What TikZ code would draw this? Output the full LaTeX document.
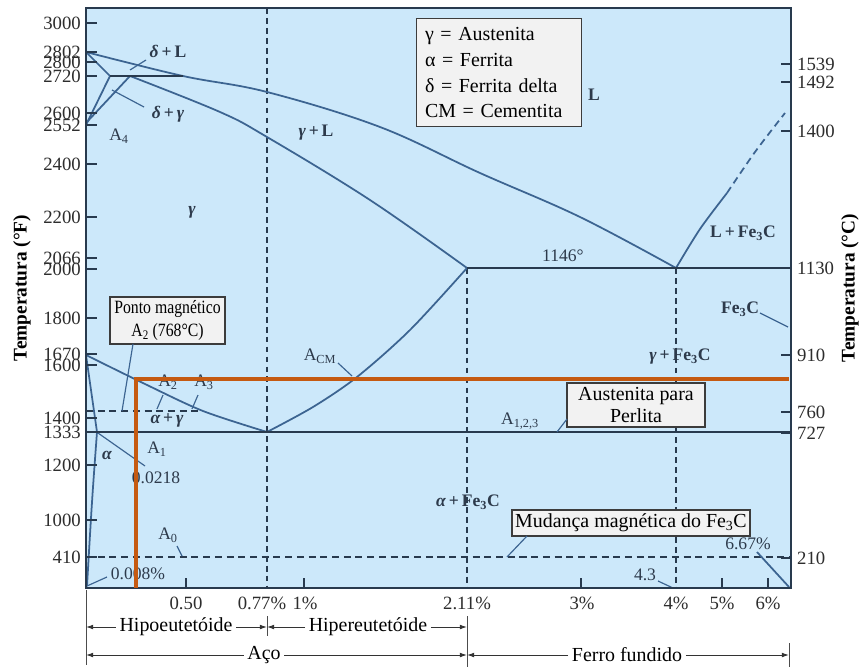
\documentclass[tikz,border=0pt]{standalone}
\usepackage{fontspec}
\setmainfont{Liberation Serif}
\usetikzlibrary{arrows.meta}
\definecolor{bgblue}{RGB}{204,232,250}
\definecolor{phase}{RGB}{60,100,145}
\definecolor{darkln}{RGB}{40,58,78}
\definecolor{lbl}{RGB}{45,58,75}
\definecolor{axtxt}{RGB}{45,45,45}
\definecolor{boxfill}{RGB}{242,242,242}
\definecolor{boxdraw}{RGB}{60,60,60}
\definecolor{orng}{RGB}{197,90,17}
\tikzset{
  phaseline/.style={draw=phase, line width=1.5pt},
  darkline/.style={draw=darkln, line width=2pt},
  dashline/.style={draw=darkln, line width=1.6pt, dash pattern=on 5pt off 3.5pt},
  leader/.style={draw=phase, line width=1pt},
  tickmark/.style={draw=darkln, line width=1.2pt},
  numlbl/.style={text=axtxt, font=\fontsize{16}{18}\selectfont, inner sep=0pt},
  phaselbl/.style={text=lbl, font=\fontsize{15}{17}\selectfont\bfseries, inner sep=1pt},
  albl/.style={text=lbl, font=\fontsize{15}{17}\selectfont, inner sep=1pt},
  infobox/.style={draw=boxdraw, fill=boxfill, line width=1.2pt, text=black, align=center, inner sep=0pt},
  bottxt/.style={text=black, font=\fontsize{17}{19}\selectfont, inner sep=3pt},
  dimarrow/.style={draw=black!80, line width=0.8pt, -{Latex[length=6pt,width=4pt]}},
  dimbar/.style={draw=black!70, line width=0.8pt},
  axtitle/.style={rotate=90, text=black, font=\fontsize{16.5}{18}\selectfont\bfseries},
}
\begin{document}
\begin{tikzpicture}[x=0.03cm,y=-0.03cm]
\useasboundingbox (0,0) rectangle (860,668);
\fill[white] (0,0) rectangle (860,668);
\fill[bgblue] (86,8) rectangle (791,588);

% key points
\coordinate (melt) at (86,52);
\coordinate (pd) at (110,76);
\coordinate (pg) at (130,76);
\coordinate (pl) at (183,76);
\coordinate (afour) at (86,125);
\coordinate (athree) at (86,355);
\coordinate (eut) at (267,432);
\coordinate (egam) at (467,268);
\coordinate (ecx) at (676,268);

% dashed verticals and horizontals
\draw[dashline] (267,8) -- (267,588);
\draw[dashline] (egam) -- (467,588);
\draw[dashline] (ecx) -- (676,588);
\draw[dashline, dash pattern=on 6pt off 4pt] (86,557) -- (791,557);
\draw[dashline, dash pattern=on 6pt off 4pt] (86,411) -- (203,411);

% phase boundaries
\draw[phaseline] plot[smooth, tension=0.6] coordinates {(melt) (pl) (267,92) (380,127) (480,173) (580,217) (ecx)};
\draw[phaseline] plot[smooth, tension=0.6] coordinates {(pg) (220,112) (267,137) (370,200) (egam)};
\draw[phaseline] (melt) -- (pd);
\draw[phaseline] (afour) -- (pd);
\draw[phaseline] (86,123) -- (pg);
\draw[darkline] (pd) -- (pl);
\draw[phaseline] plot[smooth] coordinates {(athree) (145,384) (203,411) (eut)};
\draw[phaseline] plot[smooth] coordinates {(eut) (313,407) (357,377) (410,330) (egam)};
\draw[phaseline] (athree) -- (97,432) .. controls (92,500) .. (87,586);
\draw[phaseline] plot[smooth] coordinates {(ecx) (700,229) (727,193)};
\draw[phaseline, dash pattern=on 6pt off 4pt] plot[smooth] coordinates {(727,193) (755,152) (785,113)};
\draw[darkline] (86,432) -- (791,432);
\draw[darkline] (egam) -- (791,268);

% left axis
\foreach \v/\y in {3000/23, 2802/52, 2800/62, 2720/76, 2600/113, 2552/125, 2400/164, 2200/217, 2066/258, 2000/269, 1800/318, 1670/354, 1600/365, 1400/418, 1333/432, 1200/465, 1000/520, 410/557}{
  \node[numlbl, anchor=east] (fl\v) at (81,\y) {\v};
  \draw[tickmark] (86,\y) -- (97,\y);
}
% right axis
\foreach \v/\y in {1539/64, 1492/82, 1400/131, 1130/268, 910/355, 760/412, 727/433, 210/558}{
  \node[numlbl, anchor=west] (cl\v) at (797,\y) {\v};
  \draw[tickmark] (781,\y) -- (791,\y);
}
% bottom ticks and labels
\foreach \x in {186, 304, 581, 722, 768}{
  \draw[tickmark] (\x,588) -- (\x,578);
}
\node[numlbl] (b1) at (186,603) {0.50};
\node[numlbl] (b2) at (262,603) {0.77\%};
\node[numlbl] (b3) at (305,603) {1\%};
\node[numlbl] (b4) at (467,603) {2.11\%};
\node[numlbl] (b5) at (582,603) {3\%};
\node[numlbl] (b6) at (676,603) {4\%};
\node[numlbl] (b7) at (722,603) {5\%};
\node[numlbl] (b8) at (768,603) {6\%};

% axis titles
\node[axtitle] (tF) at (22,288) {Temperatura (°F)};
\node[axtitle] (tC) at (850,288) {Temperatura (°C)};

% phase labels
\node[phaselbl] (dL) at (168,51) {{\itshape δ}\,+\,L};
\node[phaselbl] (dg) at (168,114) {{\itshape δ}\,+\,{\itshape γ}};
\node[albl] (lA4) at (119,136) {A\textsubscript{4}};
\node[phaselbl] (gam) at (192,212) {\itshape γ};
\node[phaselbl] (gL) at (316,133) {{\itshape γ}\,+\,L};
\node[phaselbl] (liq) at (594,95) {L};
\node[phaselbl] (LFe) at (743,233) {L\,+\,Fe\textsubscript{3}C};
\node[albl] (t1146) at (563,256) {1146°};
\node[phaselbl] (cem) at (740,309) {Fe\textsubscript{3}C};
\node[phaselbl] (gFe) at (680,357) {{\itshape γ}\,+\,Fe\textsubscript{3}C};
\node[albl] (ACM) at (320,356) {A\textsubscript{CM}};
\node[albl] (A123) at (520,421) {A\textsubscript{1,2,3}};
\node[albl] (lA2) at (168,382) {A\textsubscript{2}};
\node[albl] (lA3) at (204,382) {A\textsubscript{3}};
\node[phaselbl] (ag) at (167,420) {{\itshape α}\,+\,{\itshape γ}};
\node[albl] (lA1) at (157,449) {A\textsubscript{1}};
\node[phaselbl] (alf) at (107,455) {\itshape α};
\node[albl] (p0218) at (156,478) {0.0218};
\node[albl] (p008) at (138,574) {0.008\%};
\node[albl] (lA0) at (168,535) {A\textsubscript{0}};
\node[phaselbl] (aFe) at (468,502) {{\itshape α}\,+\,Fe\textsubscript{3}C};
\node[albl] (p667) at (748,544) {6.67\%};
\node[albl] (p43) at (645,575) {4.3};

% leaders
\draw[leader] (146,60) -- (130,70);
\draw[leader] (144,107) -- (112,90);
\draw[leader] (338,363) -- (352,376);
\draw[leader] (163,395) -- (157,409);
\draw[leader] (198,395) -- (192,409);
\draw[leader] (98,433) -- (145,466);
\draw[leader] (87,586) -- (107,577);
\draw[leader] (177,546) -- (182,556);
\draw[leader] (658,581) -- (673,588);
\draw[phaseline] (757,552) -- (789,587);
\draw[leader] (760,313) -- (788,327);

% boxes
\node[infobox, anchor=north west, minimum width=4.95cm, minimum height=3.24cm, text width=4.45cm, align=left, font=\fontsize{17}{22}\selectfont] (legend) at (416,18) {γ = Austenita\\α = Ferrita\\δ = Ferrita delta\\CM = Cementita};
\node[infobox, minimum width=3.45cm, minimum height=1.41cm, font=\fontsize{16}{19}\selectfont] (ponto) at (167.5,320.5) {\scalebox{0.84}[1]{Ponto magnético}\\\scalebox{0.84}[1]{A\textsubscript{2} (768°C)}};
\node[infobox, minimum width=4.14cm, minimum height=1.32cm, font=\fontsize{17}{19}\selectfont] (austen) at (636,405) {Austenita para\\Perlita};
\node[infobox, minimum width=7.14cm, minimum height=0.78cm, font=\fontsize{17}{19}\selectfont] (mudanca) at (631,523) {Mudança magnética do Fe\textsubscript{3}C};
\coordinate (pontoend) at (122,411);
\coordinate (austenend) at (557,432);
\coordinate (mudend) at (507,557);
\draw[leader] (133,344) -- (pontoend);
\draw[leader] (567,419) -- (austenend);
\draw[leader] (527,536) -- (mudend);

% frame
\draw[draw=darkln, line width=1.5pt] (86,8) rectangle (791,588);

% orange overlay
\draw[orng, line width=2.6pt] (136,588) -- (136,379) -- (789,379);

% bottom dimension rows
\draw[dimbar] (86,590) -- (86,665);
\draw[dimbar] (267,616) -- (267,636);
\draw[dimbar] (467,616) -- (467,667);
\draw[dimbar] (789,643) -- (789,667);
\node[bottxt] (hipo) at (176,627) {Hipoeutetóide};
\node[bottxt] (hiper) at (368,627) {Hipereutetóide};
\node[bottxt] (aco) at (264,655) {Aço};
\node[bottxt] (ferro) at (627,655) {Ferro fundido};
\coordinate (r1a) at (86,627);
\coordinate (r1b) at (267,627);
\coordinate (r1c) at (467,627);
\coordinate (r2a) at (86,655);
\coordinate (r2b) at (467,655);
\coordinate (r2c) at (789,655);
\draw[dimarrow] (hipo.west) -- (r1a);
\draw[dimarrow] (hipo.east) -- (r1b);
\draw[dimarrow] (hiper.west) -- (r1b);
\draw[dimarrow] (hiper.east) -- (r1c);
\draw[dimarrow] (aco.west) -- (r2a);
\draw[dimarrow] (aco.east) -- (r2b);
\draw[dimarrow] (ferro.west) -- (r2b);
\draw[dimarrow] (ferro.east) -- (r2c);
\end{tikzpicture}
\end{document}
